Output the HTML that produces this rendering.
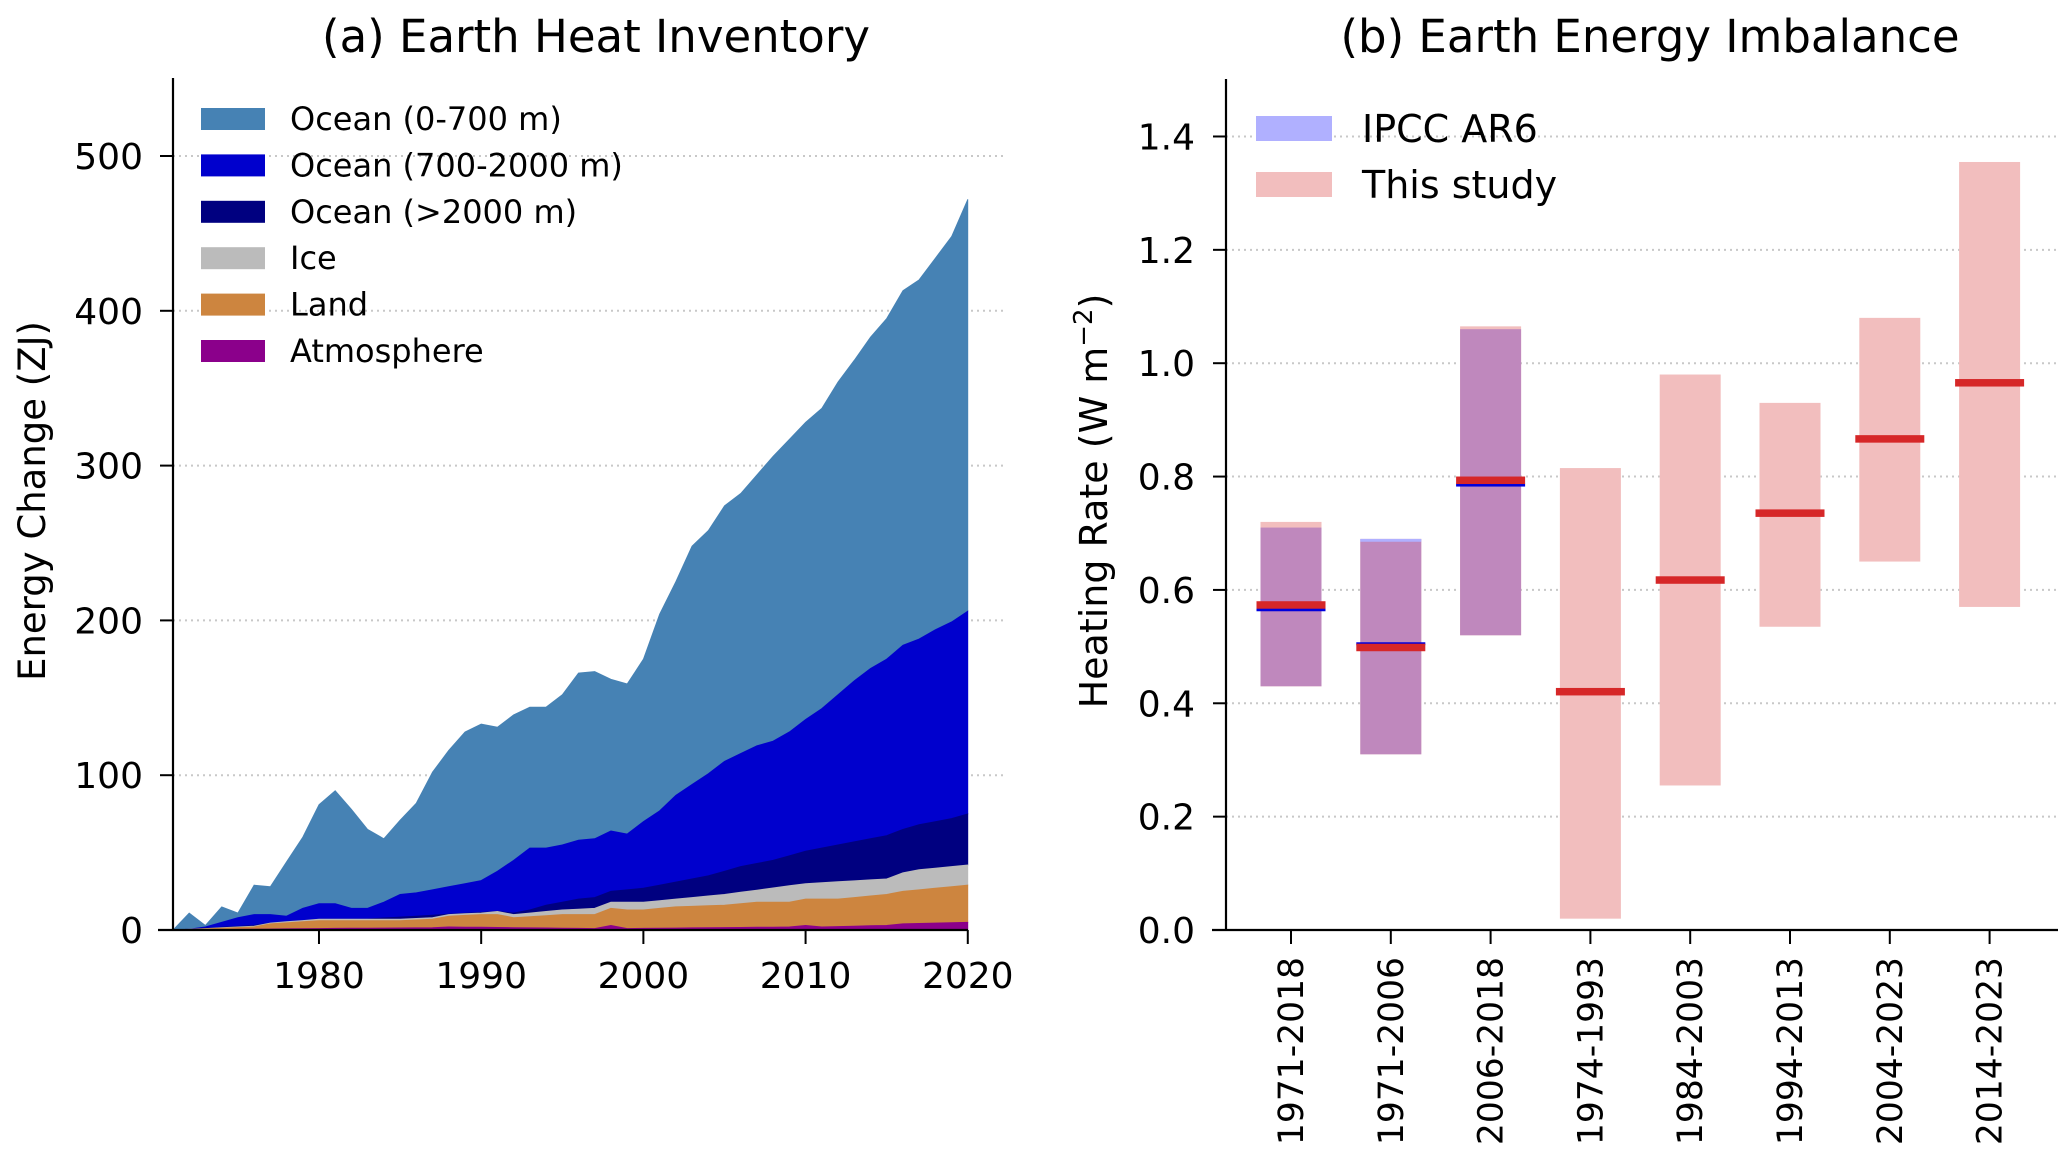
<!DOCTYPE html>
<html><head><meta charset="utf-8">
<style>
html,body{margin:0;padding:0;background:#fff;}
svg{display:block;font-family:"DejaVu Sans","Liberation Sans",sans-serif;}
</style></head>
<body>
<svg id="s" width="2067" height="1158" viewBox="0 0 2067 1158" xmlns="http://www.w3.org/2000/svg">
<rect width="2067" height="1158" fill="#fff"/>
<g id="L"></g>
<g id="R"></g>
<text x="596" y="52" font-size="45" text-anchor="middle" fill="#000">(a) Earth Heat Inventory</text>
<text x="1650" y="52" font-size="45" text-anchor="middle" fill="#000">(b) Earth Energy Imbalance</text>
<text transform="translate(45,501) rotate(-90)" font-size="37" text-anchor="middle">Energy Change (ZJ)</text>
<text transform="translate(1107,501) rotate(-90)" font-size="38" text-anchor="middle">Heating Rate (W m<tspan dy="-15" font-size="26">−2</tspan><tspan dy="15">)</tspan></text>
</svg>
<script>
const NS="http://www.w3.org/2000/svg";
function el(p,t,a,txt){const e=document.createElementNS(NS,t);for(const k in a)e.setAttribute(k,a[k]);if(txt!==undefined)e.textContent=txt;p.appendChild(e);return e;}
const B=930;
const L=document.getElementById('L');
const X=y=>173+(y-1971)*16.22, Y=v=>B-v*1.548;
const total=[0,11,3,15,11,29,28,44,60,81,90,78,65,59,71,82,102,116,128,133,131,139,144,144,152,166,167,162,159,175,204,225,248,258,274,282,294,306,317,328,337,354,368,383,395,413,420,434,448,472];
const mid=[0,0,2,5,8,10,10,9,14,17,17,14,14,18,23,24,26,28,30,32,38,45,53,53,55,58,59,64,62,70,77,87,94,101,109,114,119,122,128,136,143,152,161,169,175,184,188,194,199,206];
function interp(kp){const r=[];for(let y=1971;y<=2020;y++){let i=0;while(i<kp.length-2&&kp[i+1][0]<=y)i++;const a=kp[i],b=kp[i+1];r.push(a[1]+(b[1]-a[1])*(y-a[0])/(b[0]-a[0]));}return r;}
const atm=interp([[1971,0],[1980,1],[1987,1.5],[1988,2],[1997,1],[1998,3],[1999,1],[2009,2],[2010,3],[2011,2],[2015,3],[2016,4],[2020,5]]);
const land=interp([[1971,0],[1976,2],[1977,4],[1980,6],[1985,6],[1987,7],[1988,9],[1990,10],[1991,10],[1992,8],[1995,10],[1997,10],[1998,14],[1999,13],[2000,13],[2002,15],[2005,16],[2007,18],[2009,18],[2010,20],[2012,20],[2015,23],[2016,25],[2020,29]]);
const ice=interp([[1971,0],[1976,2.5],[1977,4.5],[1980,7],[1985,7],[1987,8],[1988,10],[1990,11],[1991,12],[1992,10],[1995,13],[1997,14],[1998,18],[2000,18],[2005,23],[2010,30],[2015,33],[2016,37],[2017,39],[2020,42]]);
const deepK=interp([[1971,0],[1991,12],[1992,11],[1993,13],[1994,16],[1995,18],[1996,20],[1997,21],[1998,25],[1999,26],[2000,27],[2001,29],[2002,31],[2003,33],[2004,35],[2005,38],[2006,41],[2007,43],[2008,45],[2009,48],[2010,51],[2011,53],[2012,55],[2013,57],[2014,59],[2015,61],[2016,65],[2017,68],[2018,70],[2019,72],[2020,75]]);
const deep=deepK.map((v,i)=>Math.max(v,ice[i]));
const mid2=mid.map((v,i)=>Math.max(v,deep[i]));
const zero=mid.map(()=>0);
function area(top,bot,col){let d='';for(let i=0;i<50;i++)d+=(i?'L':'M')+X(1971+i).toFixed(1)+','+Y(top[i]).toFixed(1);for(let i=49;i>=0;i--)d+='L'+X(1971+i).toFixed(1)+','+Y(bot[i]).toFixed(1);el(L,'path',{d:d+'Z',fill:col,stroke:col,'stroke-width':0.8});}
[100,200,300,400,500].forEach(v=>el(L,'line',{x1:173,x2:1005,y1:Y(v),y2:Y(v),stroke:'#c8c8c8','stroke-width':2,'stroke-dasharray':'2,4'}));
area(total,mid2,'#4682b4');
area(mid2,deep,'#0000cd');
area(deep,ice,'#000080');
area(ice,land,'#bbbbbb');
area(land,atm,'#cd853f');
area(atm,zero,'#8b008b');
el(L,'line',{x1:173,x2:173,y1:78,y2:B+1,stroke:'#000','stroke-width':2.2});
el(L,'line',{x1:158,x2:968,y1:B,y2:B,stroke:'#000','stroke-width':2.2});
[0,100,200,300,400,500].forEach(v=>{el(L,'line',{x1:160,x2:173,y1:Y(v),y2:Y(v),stroke:'#000','stroke-width':2});el(L,'text',{x:143,y:Y(v)+13,'font-size':36,'text-anchor':'end'},String(v));});
[1980,1990,2000,2010,2020].forEach(y=>{el(L,'line',{x1:X(y),x2:X(y),y1:B,y2:B+14,stroke:'#000','stroke-width':2});el(L,'text',{x:X(y),y:B+58,'font-size':36,'text-anchor':'middle'},String(y));});
const leg=[['#4682b4','Ocean (0-700 m)'],['#0000cd','Ocean (700-2000 m)'],['#000080','Ocean (>2000 m)'],['#bbbbbb','Ice'],['#cd853f','Land'],['#8b008b','Atmosphere']];
leg.forEach((l,i)=>{const cy=119+i*46.4;el(L,'rect',{x:201,y:cy-11,width:64,height:22,fill:l[0]});el(L,'text',{x:290,y:cy+11,'font-size':32},l[1]);});
const R=document.getElementById('R');
const RY=v=>B-v*566.8;
[0.2,0.4,0.6,0.8,1.0,1.2,1.4].forEach(v=>el(R,'line',{x1:1226,x2:2058,y1:RY(v),y2:RY(v),stroke:'#c8c8c8','stroke-width':2,'stroke-dasharray':'2,4'}));
const cats=['1971-2018','1971-2006','2006-2018','1974-1993','1984-2003','1994-2013','2004-2023','2014-2023'];
const cx=i=>1291+i*99.8;
const ipcc=[[0.43,0.71,0.565],[0.31,0.69,0.505],[0.52,1.06,0.785]];
const ours=[[0.43,0.72,0.573],[0.31,0.685,0.498],[0.52,1.065,0.793],[0.02,0.815,0.42],[0.255,0.98,0.617],[0.535,0.93,0.735],[0.65,1.08,0.866],[0.57,1.355,0.965]];
ours.forEach((o,i)=>{
  el(R,'rect',{x:cx(i)-30.5,y:RY(o[1]),width:61,height:RY(o[0])-RY(o[1]),fill:'#f2bebe'});
  if(i<3){const p=ipcc[i];el(R,'rect',{x:cx(i)-30.5,y:RY(p[1]),width:61,height:RY(p[0])-RY(p[1]),fill:'#bf88bd'});
    if(p[1]>o[1])el(R,'rect',{x:cx(i)-30.5,y:RY(p[1]),width:61,height:RY(o[1])-RY(p[1]),fill:'#b0b0ff'});
    el(R,'rect',{x:cx(i)-34.5,y:RY(p[2])-1.5,width:69,height:3,fill:'#0000dd'});}
  el(R,'rect',{x:cx(i)-34.5,y:RY(o[2])-4,width:69,height:7.5,fill:'#d62728'});
});
el(R,'line',{x1:1226,x2:1226,y1:79,y2:B+1,stroke:'#000','stroke-width':2.2});
el(R,'line',{x1:1212,x2:2058,y1:B,y2:B,stroke:'#000','stroke-width':2.2});
[0,0.2,0.4,0.6,0.8,1.0,1.2,1.4].forEach(v=>{el(R,'line',{x1:1213,x2:1226,y1:RY(v),y2:RY(v),stroke:'#000','stroke-width':2});el(R,'text',{x:1195,y:RY(v)+13,'font-size':36,'text-anchor':'end'},v.toFixed(1));});
cats.forEach((c,i)=>{el(R,'line',{x1:cx(i),x2:cx(i),y1:B,y2:B+14,stroke:'#000','stroke-width':2});el(R,'text',{transform:`translate(${cx(i)+12},${B+27}) rotate(-90)`,'font-size':34.5,'text-anchor':'end'},c);});
el(R,'rect',{x:1256,y:116,width:76,height:25,fill:'#b0b0ff'});
el(R,'text',{x:1362,y:142,'font-size':38},'IPCC AR6');
el(R,'rect',{x:1256,y:172,width:76,height:25,fill:'#f2bebe'});
el(R,'text',{x:1362,y:198,'font-size':38},'This study');
</script>
</body></html>
